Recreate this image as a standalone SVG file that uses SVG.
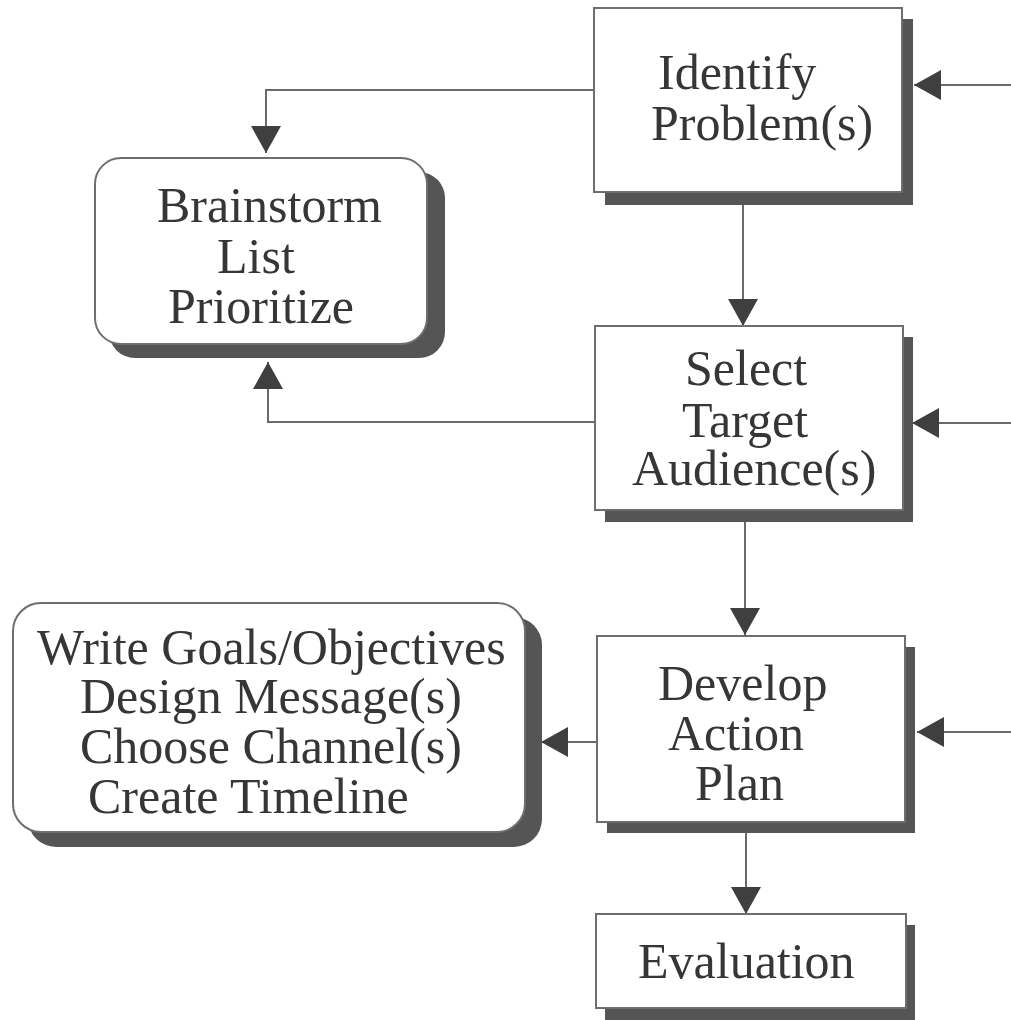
<svg xmlns="http://www.w3.org/2000/svg" width="1011" height="1020" viewBox="0 0 1011 1020">
  <defs>
    <style>
      .box { fill: #ffffff; stroke: #6e6e6e; stroke-width: 2; }
      .shadow { fill: #555555; }
      .lbl { font-family: "Liberation Serif", "Times New Roman", serif; font-size: 50px; fill: #363636; }
      .conn { fill: none; stroke: #6a6a6a; stroke-width: 2; }
    </style>
    <marker id="arrow" markerUnits="userSpaceOnUse" markerWidth="28" markerHeight="30" refX="27" refY="15" orient="auto" viewBox="0 0 28 30">
      <path d="M0,0 L27,15 L0,30 z" fill="#3f3f3f"/>
    </marker>
  </defs>
  <rect width="1011" height="1020" fill="#ffffff"/>

  <g id="connectors">
    <path class="conn" d="M594,90 H266 V153" marker-end="url(#arrow)"/>
    <path class="conn" d="M743,205 V326" marker-end="url(#arrow)"/>
    <path class="conn" d="M595,422 H268 V362" marker-end="url(#arrow)"/>
    <path class="conn" d="M745,522 V635" marker-end="url(#arrow)"/>
    <path class="conn" d="M597,742 H541" marker-end="url(#arrow)"/>
    <path class="conn" d="M746,833 V914" marker-end="url(#arrow)"/>
    <path class="conn" d="M1011,85 H914" marker-end="url(#arrow)"/>
    <path class="conn" d="M1011,423 H912" marker-end="url(#arrow)"/>
    <path class="conn" d="M1011,732 H917" marker-end="url(#arrow)"/>
  </g>

  <g id="identify">
    <rect class="shadow" x="605" y="19" width="308" height="186"/>
    <rect class="box" x="594" y="8" width="308" height="184"/>
    <text class="lbl"><tspan x="658" y="89">Identify</tspan><tspan x="651" y="140">Problem(s)</tspan></text>
  </g>

  <g id="brainstorm">
    <rect class="shadow" x="109" y="172" width="336" height="186" rx="26"/>
    <rect class="box" x="95" y="158" width="332" height="186" rx="26"/>
    <text class="lbl"><tspan x="157" y="222">Brainstorm</tspan><tspan x="217" y="273">List</tspan><tspan x="168" y="323">Prioritize</tspan></text>
  </g>

  <g id="select">
    <rect class="shadow" x="605" y="337" width="308" height="185"/>
    <rect class="box" x="595" y="326" width="308" height="184"/>
    <text class="lbl"><tspan x="685" y="385">Select</tspan><tspan x="682" y="437">Target</tspan><tspan x="632" y="485">Audience(s)</tspan></text>
  </g>

  <g id="goals">
    <rect class="shadow" x="28" y="617" width="514" height="230" rx="28"/>
    <rect class="box" x="13" y="603" width="512" height="229" rx="28"/>
    <text class="lbl"><tspan x="37" y="664">Write Goals/Objectives</tspan><tspan x="80" y="713">Design Message(s)</tspan><tspan x="80" y="763">Choose Channel(s)</tspan><tspan x="88" y="813">Create Timeline</tspan></text>
  </g>

  <g id="develop">
    <rect class="shadow" x="607" y="647" width="308" height="186"/>
    <rect class="box" x="597" y="636" width="308" height="186"/>
    <text class="lbl"><tspan x="658" y="700">Develop</tspan><tspan x="668" y="750">Action</tspan><tspan x="695" y="800">Plan</tspan></text>
  </g>

  <g id="evaluation">
    <rect class="shadow" x="605" y="925" width="310" height="95"/>
    <rect class="box" x="596" y="914" width="310" height="94"/>
    <text class="lbl" x="638" y="978">Evaluation</text>
  </g>
</svg>
